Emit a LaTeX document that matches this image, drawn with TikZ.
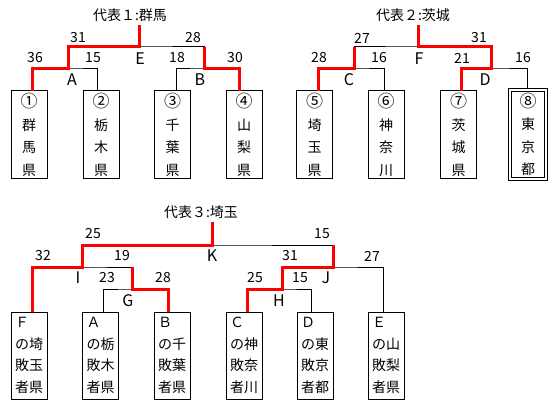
\documentclass[tikz,border=0pt]{standalone}
\usepackage{fontspec}
\setmainfont{Noto Sans CJK JP}
\usepackage{tikz}
\usetikzlibrary{calc}
\definecolor{WinRed}{RGB}{255,0,0}
\newcommand{\seed}[1]{{\fontsize{17}{22.5}\selectfont #1}}
\tikzset{
  team/.style={draw, line width=1pt, minimum width=36pt, minimum height=88pt, inner sep=0pt, align=center, font=\fontsize{14}{22.5}\selectfont},
  repbox/.style={team, minimum height=87pt, text width=28pt, align=left, font=\fontsize{14}{21.7}\selectfont},
  bracket/.style={line width=1pt},
  win/.style={draw=WinRed, line width=3pt},
  score/.style={inner sep=0pt, font=\fontsize{14}{16}\selectfont},
  matchname/.style={inner sep=0pt, font=\fontsize{16}{18}\selectfont},
  title/.style={inner sep=3pt, font=\fontsize{14}{16}\selectfont}
}
\begin{document}
\begin{tikzpicture}[x=1pt,y=-1pt]
\useasboundingbox (0,0) rectangle (559,414);
% group 1
\node[title] (t1) at (130,15) {代表１:群馬};
\node[team] (b1) at (29,135) {\seed{①}\\群\\馬\\県};
\node[team] (b2) at (101,135) {\seed{②}\\栃\\木\\県};
\node[team] (b3) at (172.5,135) {\seed{③}\\千\\葉\\県};
\node[team] (b4) at (244,135) {\seed{④}\\山\\梨\\県};
\coordinate (s1) at (32,91);
\coordinate (s2) at (97,91);
\coordinate (s3) at (176,91);
\coordinate (s4) at (239,91);
\coordinate (A) at (68,69);
\coordinate (B) at (204,69);
\coordinate (E) at (139,47);
\draw[bracket] (s1) |- (A) -| (s2);
\draw[bracket] (s3) |- (B) -| (s4);
\draw[bracket] (A) |- (E) -| (B);
\draw[win] (s1) |- (A) |- (E) -- (E |- t1.south);
\draw[win] (s4) |- (B) -- (B |- E);
\node[score] (n31a) at (78,38) {31};
\node[score] (n28a) at (193,38) {28};
\node[matchname] (mE) at (140,59) {E};
\node[score] (n36) at (35,58) {36};
\node[score] (n15a) at (93,58) {15};
\node[matchname] (mA) at (72,80) {A};
\node[score] (n18) at (177,58) {18};
\node[score] (n30) at (235,58) {30};
\node[matchname] (mB) at (200,80) {B};
% group 2
\node[title] (t2) at (413,15) {代表２:茨城};
\node[team] (b5) at (314.5,135) {\seed{⑤}\\埼\\玉\\県};
\node[team] (b6) at (386,135) {\seed{⑥}\\神\\奈\\川};
\node[team] (b7) at (458.5,135) {\seed{⑦}\\茨\\城\\県};
\node[team, double, double distance=2pt, minimum height=89pt] (b8) at (528,134.5) {\seed{⑧}\\東\\京\\都};
\coordinate (s5) at (318,91);
\coordinate (s6) at (384,91);
\coordinate (s7) at (461,91);
\coordinate (s8) at (527,89);
\coordinate (C) at (354,69);
\coordinate (D) at (491,69);
\coordinate (F) at (418,47);
\draw[bracket] (s5) |- (C) -| (s6);
\draw[bracket] (s7) |- (D) -| (s8);
\draw[bracket] (C) |- (F) -| (D);
\draw[win] (s5) |- (C) -- (C |- F);
\draw[win] (s7) |- (D) |- (F) -- (F |- t2.south);
\node[score] (n27a) at (362,38) {27};
\node[score] (n31b) at (479,38) {31};
\node[matchname] (mF) at (419,59) {F};
\node[score] (n28b) at (319,58) {28};
\node[score] (n16a) at (379,58) {16};
\node[matchname] (mC) at (349,80) {C};
\node[score] (n21) at (462,58) {21};
\node[score] (n16b) at (523,58) {16};
\node[matchname] (mD) at (485,80) {D};
% group 3
\node[title] (t3) at (201,212) {代表３:埼玉};
\node[repbox] (rF) at (29,355.5) {Ｆ\\の埼\\敗玉\\者県};
\node[repbox] (rA) at (100.5,355.5) {Ａ\\の栃\\敗木\\者県};
\node[repbox] (rB) at (172,355.5) {Ｂ\\の千\\敗葉\\者県};
\node[repbox] (rC) at (244,355.5) {Ｃ\\の神\\敗奈\\者川};
\node[repbox] (rD) at (315,355.5) {Ｄ\\の東\\敗京\\者都};
\node[repbox] (rE) at (386,355.5) {Ｅ\\の山\\敗梨\\者県};
\coordinate (sF) at (32,312);
\coordinate (sA) at (103,312);
\coordinate (sB) at (168,312);
\coordinate (sC) at (247,312);
\coordinate (sD) at (311,312);
\coordinate (sE) at (383,312);
\coordinate (G) at (132,289);
\coordinate (I) at (82,267);
\coordinate (H) at (282,289);
\coordinate (J) at (333,267);
\coordinate (K) at (212,245);
\draw[bracket] (sA) |- (G) -| (sB);
\draw[bracket] (sF) |- (I) -| (G);
\draw[bracket] (sC) |- (H) -| (sD);
\draw[bracket] (H) |- (J) -| (sE);
\draw[bracket] (I) |- (K) -| (J);
\draw[win] (sB) |- (G) -- (G |- I);
\draw[win] (sF) |- (I) |- (K) -- (K |- t3.south);
\draw[win] (sC) |- (H) |- (J) -- (J |- K);
\node[score] (n25a) at (93,234) {25};
\node[score] (n15b) at (322,234) {15};
\node[matchname] (mK) at (212,256) {K};
\node[score] (n32) at (43,256) {32};
\node[score] (n19) at (122,256) {19};
\node[matchname] (mI) at (78,278) {I};
\node[score] (n23) at (107,278) {23};
\node[score] (n28c) at (163,278) {28};
\node[matchname] (mG) at (128,301) {G};
\node[score] (n31c) at (290,256) {31};
\node[score] (n27b) at (372,256) {27};
\node[matchname] (mJ) at (326,278) {J};
\node[score] (n25b) at (255,278) {25};
\node[score] (n15c) at (300,278) {15};
\node[matchname] (mH) at (279,301) {H};
\end{tikzpicture}
\end{document}
